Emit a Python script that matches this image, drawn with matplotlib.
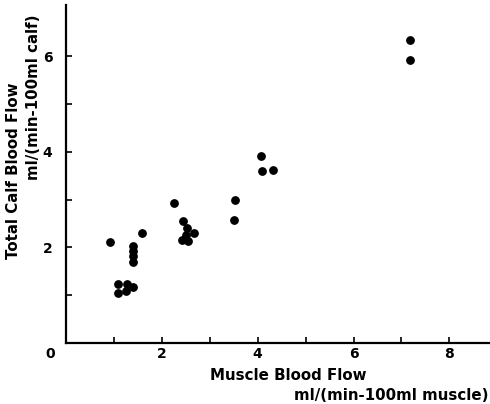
import matplotlib
matplotlib.use('Agg')
import matplotlib.pyplot as plt

plt.rcParams['font.family'] = ['DejaVu Sans']
plt.rcParams['font.weight'] = 'bold'

# muscle blood flow vs total calf blood flow, ml/(min-100ml)
muscle_flow = [0.92, 1.59, 1.39, 1.39, 1.39, 1.40,
               1.09, 1.28, 1.40, 1.09, 1.26,
               2.26, 2.44, 2.53, 2.66, 2.41, 2.55, 2.50,
               3.52, 3.51, 4.06, 4.08, 4.31, 7.17, 7.19]
calf_flow = [2.12, 2.30, 2.03, 1.93, 1.82, 1.70,
             1.23, 1.24, 1.17, 1.05, 1.08,
             2.92, 2.56, 2.40, 2.29, 2.16, 2.14, 2.25,
             2.98, 2.57, 3.92, 3.60, 3.61, 6.33, 5.91]

x_ticks = [1, 2, 3, 4, 5, 6, 7, 8]
x_labels = ['', '2', '', '4', '', '6', '', '8']
y_ticks = [1, 2, 3, 4, 5, 6]
y_labels = ['', '2', '', '4', '', '6']

fig = plt.figure(figsize=(4.9, 4.04), dpi=100)
ax = fig.add_axes([0.135, 0.151, 0.865, 0.837])

ax.scatter(muscle_flow, calf_flow, s=28, color='black', zorder=3)

ax.set_xlim(0, 8.85)
ax.set_ylim(0, 7.07)
ax.spines['top'].set_visible(False)
ax.spines['right'].set_visible(False)
ax.spines['left'].set_linewidth(1.6)
ax.spines['bottom'].set_linewidth(1.6)

ax.set_xticks(x_ticks)
ax.set_xticklabels(x_labels, fontsize=10, fontweight='bold')
ax.set_yticks(y_ticks)
ax.set_yticklabels(y_labels, fontsize=10, fontweight='bold')
ax.tick_params(direction='in', length=4, width=1.2)
ax.tick_params(axis='x', pad=3)
ax.tick_params(axis='y', pad=10)

# shared origin label at the corner
fig.text(50 / 490, 1 - 354 / 404, '0', fontsize=10, fontweight='bold',
         ha='center', va='center')

lab = 10.8
fig.text(288 / 490, 1 - 376 / 404, 'Muscle Blood Flow', fontsize=lab,
         fontweight='bold', ha='center', va='center')
fig.text(488 / 490, 1 - 396 / 404, 'ml/(min-100ml muscle)', fontsize=lab,
         fontweight='bold', ha='right', va='center')
fig.text(14 / 490, 1 - 171 / 404, 'Total Calf Blood Flow', fontsize=lab,
         fontweight='bold', ha='center', va='center', rotation=90)
fig.text(34 / 490, 1 - 97 / 404, 'ml/(min-100ml calf)', fontsize=lab,
         fontweight='bold', ha='center', va='center', rotation=90)

plt.savefig('out.png', dpi=100)
